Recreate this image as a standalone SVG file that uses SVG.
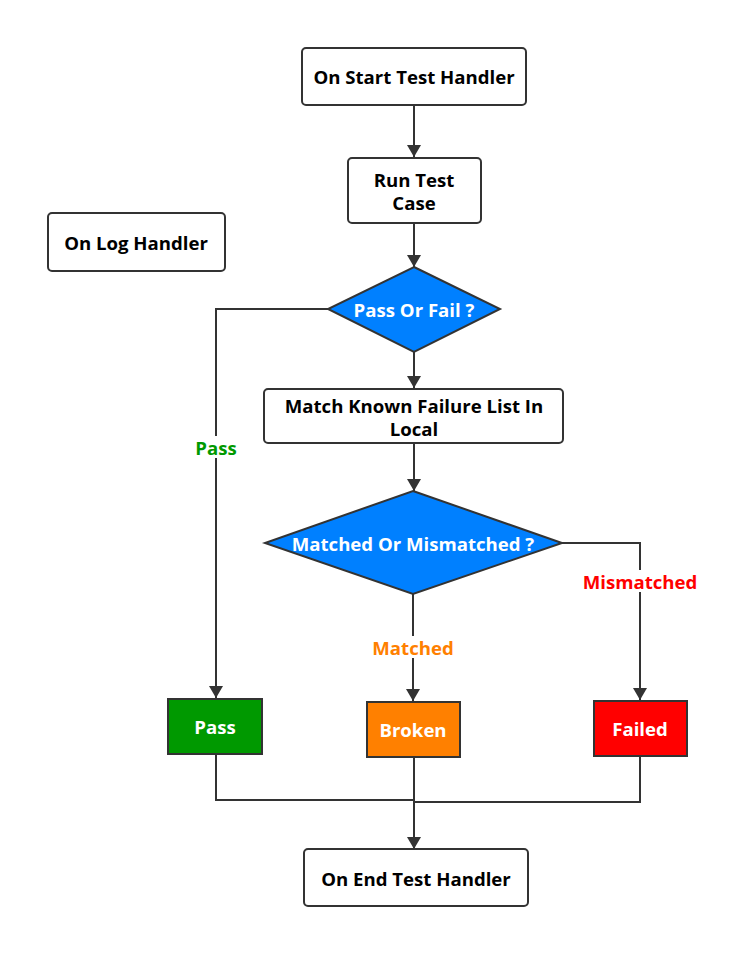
<svg xmlns="http://www.w3.org/2000/svg" width="749" height="969" viewBox="0 0 749 969">
<defs>
<style>
.box{fill:#fff;stroke:#333;stroke-width:2}
.t{font-family:"Open Sans","Noto Sans","Liberation Sans",sans-serif;font-weight:bold;font-size:18.6px;text-anchor:middle;dominant-baseline:central}
.dk{fill:#000}
.wh{fill:#fff}
.dia{fill:#0080ff;stroke:#333;stroke-width:2}
.ln{fill:none;stroke:#333;stroke-width:2}
</style>
<marker id="ah" viewBox="0 0 12 16" refX="12" refY="8" markerWidth="12" markerHeight="16" markerUnits="userSpaceOnUse" orient="auto">
<path d="M0,1 L12,8 L0,15 Z" fill="#333"/>
</marker>
</defs>
<rect width="749" height="969" fill="#fff"/>
<g id="connectors">
<path class="ln" d="M414,105 V157" marker-end="url(#ah)"/>
<path class="ln" d="M414,223 V267" marker-end="url(#ah)"/>
<path class="ln" d="M414,352 V388" marker-end="url(#ah)"/>
<path class="ln" d="M414,443 V491" marker-end="url(#ah)"/>
<path class="ln" d="M328,309 H216 V698" marker-end="url(#ah)"/>
<path class="ln" d="M413,594 V701" marker-end="url(#ah)"/>
<path class="ln" d="M562,543 H640 V700" marker-end="url(#ah)"/>
<path class="ln" d="M216,754 V800 H414"/>
<path class="ln" d="M640,756 V802 H414"/>
<path class="ln" d="M414,757 V849" marker-end="url(#ah)"/>
<rect x="193" y="436" width="46" height="22" fill="#fff"/>
<text class="t" x="216" y="447" fill="#009900">Pass</text>
<rect x="369" y="636" width="88" height="22" fill="#fff"/>
<text class="t" x="413" y="647" fill="#ff8000">Matched</text>
<rect x="584" y="570" width="112" height="22" fill="#fff"/>
<text class="t" x="640" y="581" fill="#ff0000">Mismatched</text>
</g>
<g id="start">
<rect class="box" x="302" y="48" width="224" height="57" rx="4"/>
<text class="t dk" x="414" y="76">On Start Test Handler</text>
</g>
<g id="run">
<rect class="box" x="348" y="158" width="133" height="65" rx="4"/>
<text class="t dk" x="414" y="179">Run Test</text>
<text class="t dk" x="414" y="202">Case</text>
</g>
<g id="log">
<rect class="box" x="48" y="213" width="177" height="58" rx="4"/>
<text class="t dk" x="136" y="242">On Log Handler</text>
</g>
<g id="passorfail">
<polygon class="dia" points="414,267 500,309 414,352 328,309"/>
<text class="t wh" x="414" y="309">Pass Or Fail ?</text>
</g>
<g id="match">
<rect class="box" x="264" y="389" width="299" height="54" rx="4"/>
<text class="t dk" x="414" y="405">Match Known Failure List In</text>
<text class="t dk" x="414" y="428">Local</text>
</g>
<g id="matched">
<polygon class="dia" points="413,491 562,543 413,594 265,543"/>
<text class="t wh" x="413" y="543">Matched Or Mismatched ?</text>
</g>
<g id="pass">
<rect x="168" y="699" width="94" height="55" fill="#009900" stroke="#333" stroke-width="2"/>
<text class="t wh" x="215" y="726">Pass</text>
</g>
<g id="broken">
<rect x="367" y="702" width="93" height="55" fill="#ff8000" stroke="#333" stroke-width="2"/>
<text class="t wh" x="413" y="729">Broken</text>
</g>
<g id="failed">
<rect x="594" y="701" width="93" height="55" fill="#ff0000" stroke="#333" stroke-width="2"/>
<text class="t wh" x="640" y="728">Failed</text>
</g>
<g id="end">
<rect class="box" x="304" y="849" width="224" height="57" rx="4"/>
<text class="t dk" x="416" y="878">On End Test Handler</text>
</g>
</svg>
